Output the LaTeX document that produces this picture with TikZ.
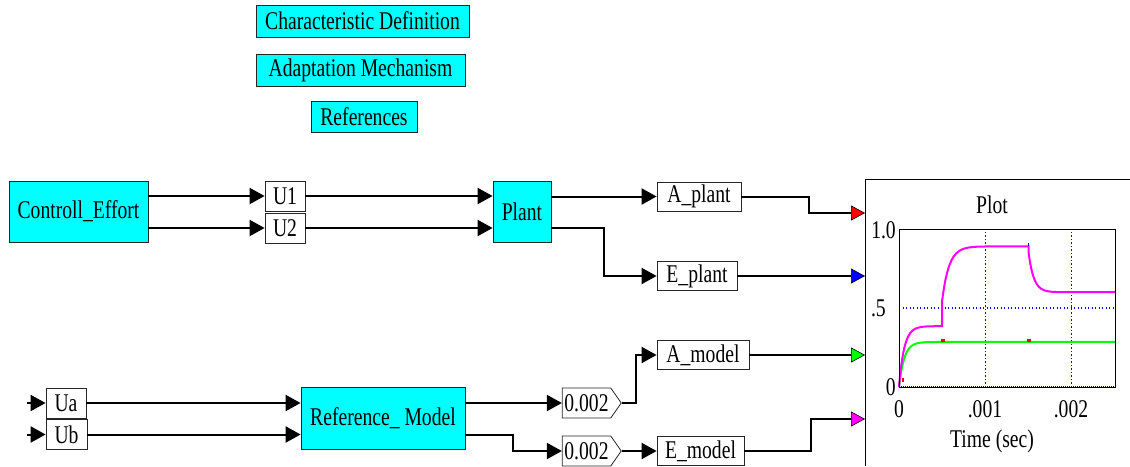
\documentclass[tikz,border=0pt]{standalone}
\usepackage{fontspec}
\usepackage{graphicx}
\setmainfont{Liberation Serif}
\usetikzlibrary{arrows.meta,shapes.symbols,calc}
\definecolor{boxcyan}{RGB}{0,255,255}
\definecolor{pred}{RGB}{255,0,0}
\definecolor{pblue}{RGB}{0,0,255}
\definecolor{pgreen}{RGB}{0,255,0}
\definecolor{pmag}{RGB}{255,0,255}
\newcommand{\dfont}{\fontsize{25.5}{30}\selectfont}
\newcommand{\nt}[1]{\scalebox{0.77}[1]{#1}}
\tikzset{
  blk/.style={draw=black!85, line width=0.8pt, fill=boxcyan, inner sep=0pt, font=\dfont},
  lbl/.style={draw=black!85, line width=0.8pt, fill=white, inner sep=0pt, font=\dfont},
  gain/.style={lbl, signal, signal to=east, signal pointer angle=110},
  conn/.style={line width=2pt, -{Triangle[length=15pt,width=16pt]}},
  pconn/.style={line width=2pt, -{Triangle[length=14pt,width=15pt,line width=0.6pt,fill=#1]}},
  txt/.style={font=\dfont, inner sep=0pt},
  gridline/.style={pblue, line width=1.3pt, dash pattern=on 1.3pt off 2.2pt}
}
\begin{document}
\begin{tikzpicture}[x=1pt,y=-1pt]
\useasboundingbox (0,0) rectangle (1130,466);
% top buttons
\node[blk, minimum width=213pt, minimum height=32pt] (chardef) at (362.5,21) {\nt{Characteristic Definition}};
\node[blk, minimum width=209pt, minimum height=32pt] (adapt) at (360.5,70) {\nt{Adaptation Mechanism}};
\node[blk, minimum width=106pt, minimum height=31pt] (refs) at (364,116.5) {\nt{References}};
% plant section
\node[blk, minimum width=139pt, minimum height=61pt] (ctrl) at (78.5,211.5) {\nt{Controll\_Effort}};
\node[lbl, minimum width=40pt, minimum height=30pt] (u1) at (285,196) {\nt{U1}};
\node[lbl, minimum width=40pt, minimum height=30pt] (u2) at (285,228) {\nt{U2}};
\node[blk, minimum width=58pt, minimum height=61pt] (plant) at (522,211.5) {\nt{Plant}};
\node[lbl, minimum width=84pt, minimum height=29pt] (aplant) at (699,196.5) {\nt{A\_plant}};
\node[lbl, minimum width=80pt, minimum height=29pt] (eplant) at (697,276) {\nt{E\_plant}};
% model section
\node[lbl, minimum width=40pt, minimum height=30pt] (ua) at (66,403) {\nt{Ua}};
\node[lbl, minimum width=41pt, minimum height=30pt] (ub) at (66.5,434.5) {\nt{Ub}};
\node[blk, minimum width=164pt, minimum height=62pt] (rm) at (383,418) {\nt{Reference\_ Model}};
\node[gain, minimum width=59pt, minimum height=30pt] (d1) at (586.5,403) {\nt{0.002}};
\node[gain, minimum width=59pt, minimum height=30pt] (d2) at (586.5,451) {\nt{0.002}};
\node[lbl, minimum width=92pt, minimum height=29pt] (amodel) at (703,355) {\nt{A\_model}};
\node[lbl, minimum width=87pt, minimum height=29pt] (emodel) at (700.5,451) {\nt{E\_model}};
% helper coordinates
\coordinate (uain) at (27,403);
\coordinate (ubin) at (27,434.5);
\coordinate (in1) at (865,213);
\coordinate (in2) at (865,276);
\coordinate (in3) at (865,355);
\coordinate (in4) at (865,419);
\coordinate (j1) at (809,0);
\coordinate (j2) at (604,0);
\coordinate (j3) at (513,0);
\coordinate (j4) at (636,0);
\coordinate (j5) at (811,0);
% connectors
\draw[conn] (ctrl.east |- u1.west) -- (u1.west);
\draw[conn] (ctrl.east |- u2.west) -- (u2.west);
\draw[conn] (u1.east) -- (plant.west |- u1.east);
\draw[conn] (u2.east) -- (plant.west |- u2.east);
\draw[conn] (plant.east |- aplant.west) -- (aplant.west);
\draw[conn] (plant.east |- u2.east) -| (j2 |- eplant.west) -- (eplant.west);
\draw[pconn=pred] (aplant.east) -| (j1 |- in1) -- (in1);
\draw[pconn=pblue] (eplant.east) -- (in2);
\draw[conn] (uain) -- (ua.west);
\draw[conn] (ubin) -- (ub.west);
\draw[conn] (ua.east) -- (rm.west |- ua.east);
\draw[conn] (ub.east) -- (rm.west |- ub.east);
\draw[conn] (rm.east |- d1.west) -- (d1.west);
\draw[conn] (rm.east |- ub.east) -| (j3 |- d2.west) -- (d2.west);
\draw[conn] (d1.east) -| (j4 |- amodel.west) -- (amodel.west);
\draw[conn] (d2.east) -- (emodel.west);
\draw[pconn=pgreen] (amodel.east) -- (in3);
\draw[pconn=pmag] (emodel.east) -| (j5 |- in4) -- (in4);
% plot panel
\draw[line width=0.8pt] (1130,179) -- (865,179) -- (865,466);
\node[txt] (ptitle) at (992,205) {\nt{Plot}};
\node[txt, anchor=east] (y1) at (896,230) {\nt{1.0}};
\node[txt, anchor=east] (y5) at (886,308) {\nt{.5}};
\node[txt, anchor=east] (y0) at (896,387) {\nt{0}};
\node[txt] (x0) at (899,409) {\nt{0}};
\node[txt] (x1) at (985,409) {\nt{.001}};
\node[txt] (x2) at (1071,409) {\nt{.002}};
\node[txt] (xlab) at (992,441) {\nt{Time (sec)}};
\begin{scope}[shift={(899pt,-387pt)}, x=8.64pt, y=158pt]
\draw[gridline] (10,0) -- (10,1) (20,0) -- (20,1) (0,0.5) -- (25,0.5);
\draw[pgreen, line width=2pt] plot[domain=0:25, samples=150] (\x,{0.285*(1-exp(-\x/0.6))});
\draw[pmag, line width=2pt] plot[domain=0:5, samples=50] (\x,{0.385*(1-exp(-\x/0.6))})
  -- plot[domain=5:15, samples=100] (\x,{0.89-0.34*exp(-(\x-5)/0.8)})
  -- plot[domain=15:25, samples=100] (\x,{0.60+0.25*exp(-(\x-15)/0.6)});
\fill[pred] (4.9,0.285) rectangle (5.3,0.305);
\fill[pred] (14.8,0.285) rectangle (15.3,0.305);
\fill[pred] (0.3,0.03) rectangle (0.6,0.06);
\fill[pblue] (14.9,0.89) rectangle (15.1,0.91);
\draw[pblue!50!black, line width=1pt, densely dotted] (0,0.006) -- (25,0.006);
\draw[line width=1pt] (0,0) rectangle (25,1);
\end{scope}
\end{tikzpicture}
\end{document}
